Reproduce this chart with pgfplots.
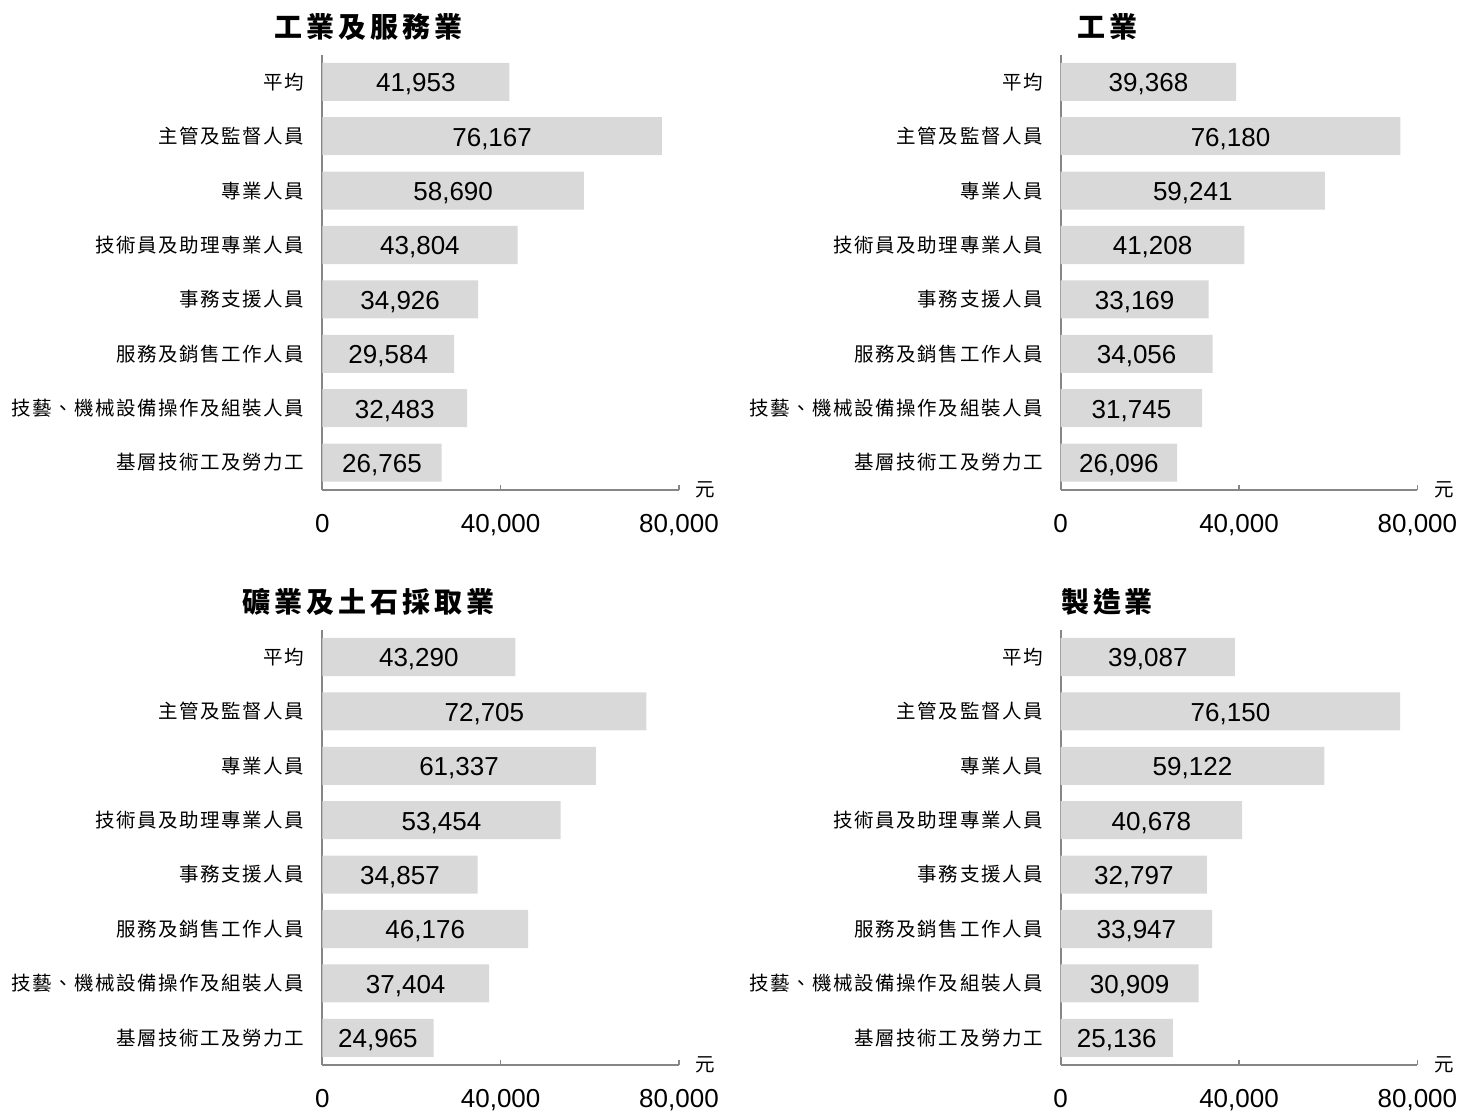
\documentclass[border=0pt]{standalone}
\usepackage{fontspec}
\setmainfont{Liberation Sans}
\newfontfamily\cjk[LetterSpace=8]{Noto Sans CJK TC}
\newfontfamily\cjkt[LetterSpace=14]{Noto Sans CJK TC}
\usepackage{pgfplots}
\usepackage{pgfplotstable}
\pgfplotsset{compat=1.18}

\definecolor{barg}{HTML}{D9D9D9}
\definecolor{axg}{HTML}{868686}
\newcommand\numfont{\fontsize{13pt}{15pt}\selectfont}
\newcommand\labfont{\cjk\fontsize{9.75pt}{11pt}\selectfont}

% pos 7 = 平均 ... pos 0 = 基層技術工及勞力工
\pgfplotstableread[row sep=\\]{
pos v\\
7 41953\\ 6 76167\\ 5 58690\\ 4 43804\\ 3 34926\\ 2 29584\\ 1 32483\\ 0 26765\\
}\dataA
\pgfplotstableread[row sep=\\]{
pos v\\
7 39368\\ 6 76180\\ 5 59241\\ 4 41208\\ 3 33169\\ 2 34056\\ 1 31745\\ 0 26096\\
}\dataB
\pgfplotstableread[row sep=\\]{
pos v\\
7 43290\\ 6 72705\\ 5 61337\\ 4 53454\\ 3 34857\\ 2 46176\\ 1 37404\\ 0 24965\\
}\dataC
\pgfplotstableread[row sep=\\]{
pos v\\
7 39087\\ 6 76150\\ 5 59122\\ 4 40678\\ 3 32797\\ 2 33947\\ 1 30909\\ 0 25136\\
}\dataD

\pgfplotsset{
  panel/.style={
    scale only axis, width=178.35pt, height=217.6pt,
    anchor=south west, clip=false,
    xmin=0, xmax=80000, ymin=-0.5, ymax=7.5,
    axis x line*=bottom, axis y line*=left,
    axis line style={draw=axg, line width=0.8pt},
    xtick={0,40000,80000}, scaled x ticks=false,
    tick align=inside, major tick length=2.5pt,
    xtick style={draw=axg, line width=0.8pt},
    ytick={0,...,7}, ytick style={draw=none},
    yticklabels={基層技術工及勞力工,技藝、機械設備操作及組裝人員,服務及銷售工作人員,事務支援人員,技術員及助理專業人員,專業人員,主管及監督人員,平均},
    /pgf/number format/assume math mode=true,
    /pgf/number format/1000 sep={,},
    xticklabel style={font=\numfont, anchor=north, inner sep=0pt, yshift=-12pt},
    yticklabel style={font=\labfont, anchor=east, inner sep=0pt, xshift=-8.8pt},
    every axis title shift=0pt,
    title style={font=\cjkt\bfseries\fontsize{14pt}{16pt}\selectfont,
      at={(axis description cs:0.13,1)}, anchor=center, yshift=13.8pt},
    xlabel={元},
    xlabel style={font=\labfont, at={(axis description cs:1.074,0)}, anchor=center, inner sep=0pt},
  },
  bars/.style={xbar, fill=barg, draw=none, bar width=0.7},
  labs/.style={draw=none, mark=none, forget plot, nodes near coords, point meta=explicit,
    nodes near coords align={center},
    every node near coord/.append style={font=\numfont, text=black, inner sep=0pt, yshift=-1.2pt}},
}

\begin{document}
\begin{tikzpicture}
\useasboundingbox (0,0) rectangle (736.5pt,-555.5pt);

\begin{axis}[panel, at={(161.15pt,-244.9pt)}, title={工業及服務業}]
  \addplot[bars] table[x=v, y=pos]{\dataA};
  \addplot[labs] table[x expr=\thisrow{v}/2, y=pos, meta=v]{\dataA};
\end{axis}

\begin{axis}[panel, at={(530.35pt,-244.9pt)}, title={工業}]
  \addplot[bars] table[x=v, y=pos]{\dataB};
  \addplot[labs] table[x expr=\thisrow{v}/2, y=pos, meta=v]{\dataB};
\end{axis}

\begin{axis}[panel, at={(161.15pt,-532.5pt)}, title={礦業及土石採取業}]
  \addplot[bars] table[x=v, y=pos]{\dataC};
  \addplot[labs] table[x expr=\thisrow{v}/2, y=pos, meta=v]{\dataC};
\end{axis}

\begin{axis}[panel, at={(530.35pt,-532.5pt)}, title={製造業}]
  \addplot[bars] table[x=v, y=pos]{\dataD};
  \addplot[labs] table[x expr=\thisrow{v}/2, y=pos, meta=v]{\dataD};
\end{axis}
\end{tikzpicture}
\end{document}
